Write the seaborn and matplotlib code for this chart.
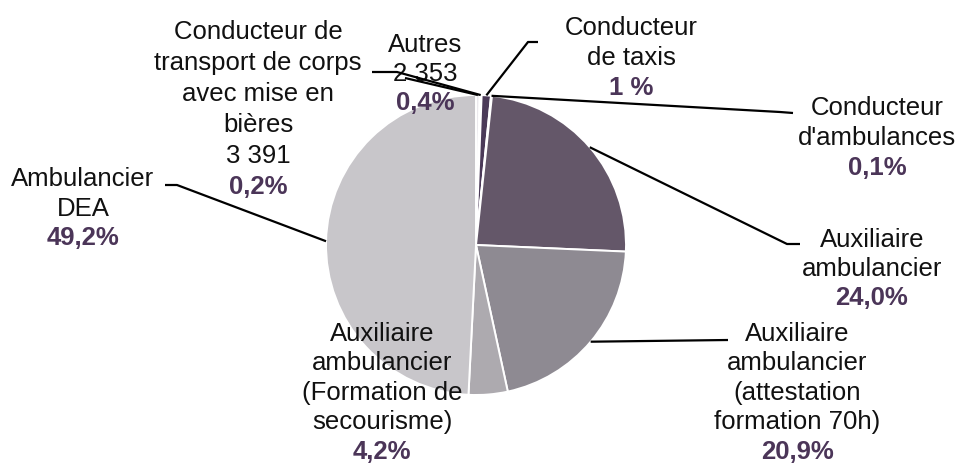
import matplotlib
matplotlib.use("Agg")
import matplotlib.pyplot as plt
import seaborn as sns
import numpy as np

# ---- data ----
categories = [
    "Autres",
    "Conducteur de transport de corps avec mise en bières",
    "Conducteur de taxis",
    "Conducteur d'ambulances",
    "Auxiliaire ambulancier",
    "Auxiliaire ambulancier (attestation formation 70h)",
    "Auxiliaire ambulancier (Formation de secourisme)",
    "Ambulancier DEA",
]
shares = [0.4, 0.2, 1.0, 0.1, 24.0, 20.9, 4.2, 49.2]
pct_labels = ["0,4%", "0,2%", "1 %", "0,1%", "24,0%", "20,9%", "4,2%", "49,2%"]
name_lines = [
    ["Autres", "2 353"],
    ["Conducteur de", "transport de corps", "avec mise en", "bières", "3 391"],
    ["Conducteur", "de taxis"],
    ["Conducteur", "d'ambulances"],
    ["Auxiliaire", "ambulancier"],
    ["Auxiliaire", "ambulancier", "(attestation", "formation 70h)"],
    ["Auxiliaire", "ambulancier", "(Formation de", "secourisme)"],
    ["Ambulancier", "DEA"],
]
colors = ["#ebe9ed", "#6a5a75", "#4b3a58", "#d9d5dd",
          "#645769", "#8e8a92", "#adaaaf", "#c8c6ca"]

# ---- style ----
sns.set_theme(style="white")
plt.rcParams["font.family"] = ["Liberation Sans", "DejaVu Sans"]

W, H = 959, 468
fig = plt.figure(figsize=(W / 100, H / 100), dpi=100)
ax = fig.add_axes([0, 0, 1, 1])
ax.set_xlim(0, W)
ax.set_ylim(0, H)
ax.set_aspect("equal")
ax.axis("off")

def Y(y):  # image-pixel y -> data y
    return H - y

cx, cy, R = 476, 245, 150
wedges, _ = ax.pie(shares, colors=colors, startangle=90, counterclock=False,
                   center=(cx, Y(cy)), radius=R, frame=True,
                   wedgeprops=dict(edgecolor="white", linewidth=1.4))
ax.set_xlim(0, W)
ax.set_ylim(0, H)
ax.axis("off")

# ---- label layout (image pixels): x center, first line y, spacing ----
label_pos = [
    (425, 45, 29),
    (258, 32, 31),
    (631, 28, 30),
    (877, 108, 30),
    (872, 240, 29),
    (797, 334, 29.5),
    (382, 334, 29.5),
    (83, 179, 29.5),
]
# leader path points after the wedge edge point (image pixels); None = no line
leader_paths = [
    [(405, 78)],
    [(397, 72), (372, 72)],
    [(528, 42), (538, 42)],
    [(780, 112), (793, 113)],
    [(787, 244), (800, 244)],
    [(728, 340)],
    None,
    [(177, 185), (165, 185)],
]

FS = 18.5
PCOL = "#4b3558"
for i, w in enumerate(wedges):
    x0, y0, sp = label_pos[i]
    lines = name_lines[i]
    for k, t in enumerate(lines):
        ax.text(x0, Y(y0 + k * sp), t, ha="center", va="center",
                fontsize=FS, color="#111111")
    ax.text(x0, Y(y0 + len(lines) * sp), pct_labels[i], ha="center",
            va="center", fontsize=FS, fontweight="bold", color=PCOL)
    if leader_paths[i] is not None:
        ang = np.deg2rad((w.theta1 + w.theta2) / 2)
        ex, ey = cx + R * np.cos(ang), Y(cy) + R * np.sin(ang)
        xs = [ex] + [p[0] for p in leader_paths[i]]
        ys = [ey] + [Y(p[1]) for p in leader_paths[i]]
        ax.plot(xs, ys, color="black", lw=1.6, solid_capstyle="butt", zorder=5)

fig.savefig("out.png", dpi=100, facecolor="white")
